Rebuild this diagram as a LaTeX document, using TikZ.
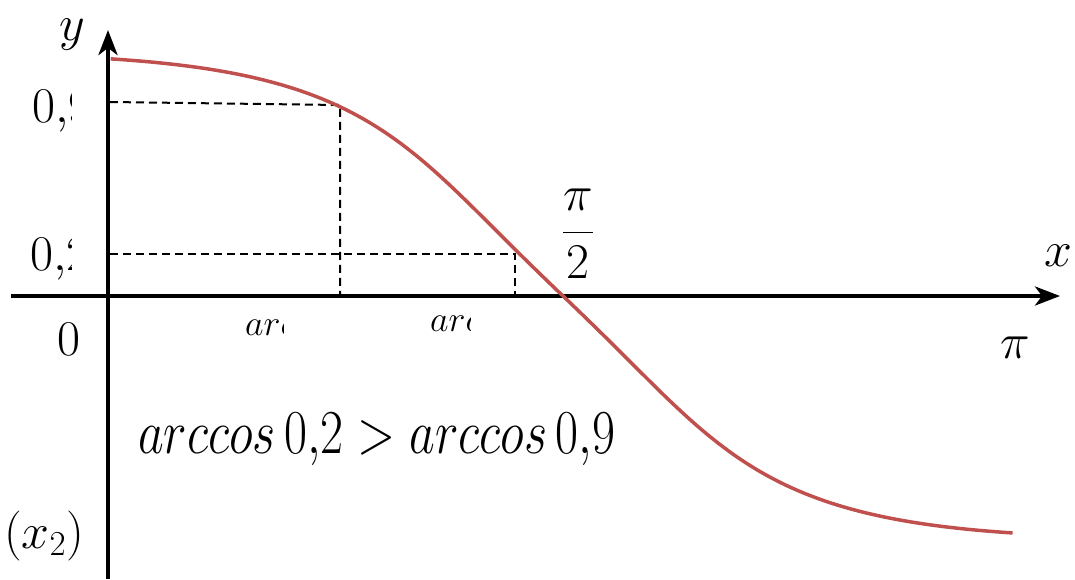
\RequirePackage{fix-cm}
\documentclass[tikz,border=0pt]{standalone}
\usepackage{amsmath}
\usetikzlibrary{arrows.meta}
\definecolor{curvered}{HTML}{C0504D}
\begin{document}
\begin{tikzpicture}[x=1pt,y=-1pt,
  axis/.style={line width=4pt,-{Stealth[length=25pt,width=19pt,inset=7pt]}},
  guide/.style={line width=2pt,dash pattern=on 8pt off 5pt},
  lbl/.style={inner sep=0pt,font=\fontsize{50}{56}\selectfont},
  small/.style={inner sep=0pt,font=\fontsize{36}{40}\selectfont}]
\useasboundingbox (0,0) rectangle (1075,579);
% axes
\coordinate (yb) at (108,579);
\coordinate (yt) at (108,30);
\coordinate (xl) at (11,296);
\coordinate (xr) at (1060,296);
\draw[axis] (yb) -- (yt);
\draw[axis] (xl) -- (xr);
% guide points
\coordinate (a9) at (110,102);
\coordinate (p9) at (340,105);
\coordinate (f9) at (340,296);
\coordinate (a2) at (110,254);
\coordinate (p2) at (515,254);
\coordinate (f2) at (515,296);
\draw[guide] (a9) -- (p9) -- (f9);
\draw[guide] (a2) -- (p2) -- (f2);
% curve
\draw[curvered,line width=3.5pt] plot[domain=-1.005:1,samples=160,variable=\t]
  ({563+450*\t},{296+237*tanh(2.1*\t)/tanh(2.1)-80*\t*exp(-1*(\t*\t/0.0625))});
% labels
\node[lbl,anchor=base] (ylab) at (72,40) {$y$};
\node[lbl,anchor=base] (xlab) at (1058,266) {$x$};
\begin{scope}
\clip (0,60) rectangle (71,140);
\node[lbl,anchor=base west] (l9) at (32,122) {$0{,}9$};
\end{scope}
\begin{scope}
\clip (0,220) rectangle (71,285);
\node[lbl,anchor=base west] (l2) at (30,270) {$0{,}2$};
\end{scope}
\node[lbl,anchor=base west] (l0) at (57,355) {$0$};
\begin{scope}
\clip (230,305) rectangle (283,350);
\node[small,anchor=base west] (arc9) at (245,335) {$arccos\,0{,}9$};
\end{scope}
\begin{scope}
\clip (420,300) rectangle (470,345);
\node[small,anchor=base west] (arc2) at (430,331) {$arccos\,0{,}2$};
\end{scope}
\node[lbl,anchor=center] (half) at (578,234) {$\dfrac{\pi}{2}$};
\node[lbl,anchor=base] (pi) at (1015,358) {$\pi$};
\node[lbl,anchor=base west] (ineq) at (138,453) {\scalebox{1}[1.25]{$arccos\,0{,}2 > arccos\,0{,}9$}};
\node[lbl,anchor=base west] (x2) at (4,548) {$(x_2)$};
\end{tikzpicture}
\end{document}
